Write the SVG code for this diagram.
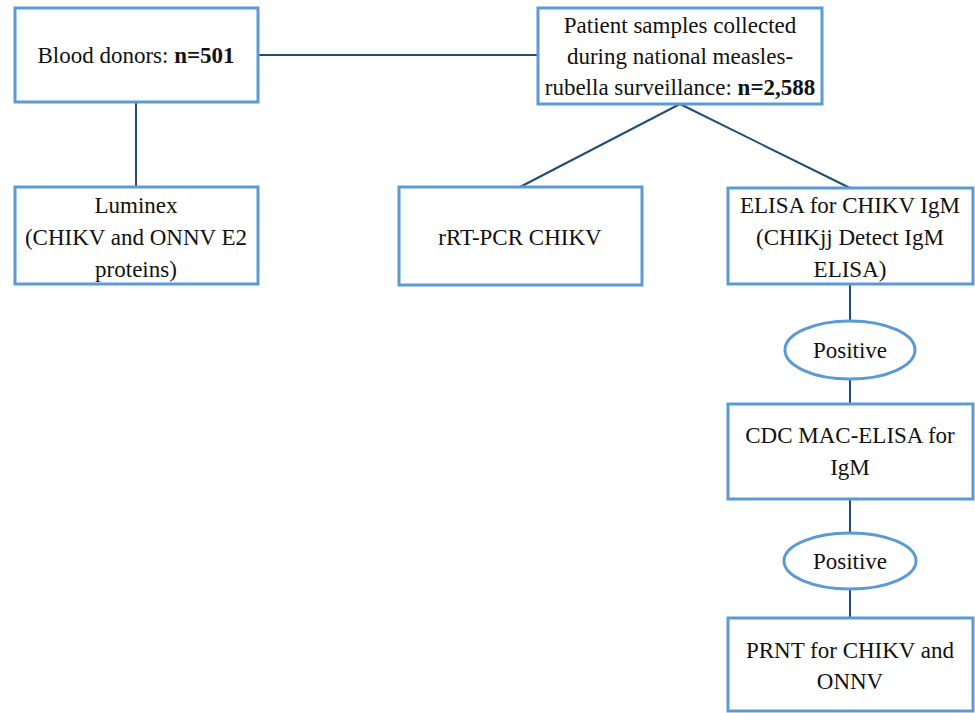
<svg xmlns="http://www.w3.org/2000/svg" width="975" height="713" viewBox="0 0 975 713" font-family="Liberation Serif, Tinos, DejaVu Serif, Noto Serif, serif">
<style>
.box{fill:#ffffff;stroke:#5b9bd5;stroke-width:3}
.ell{fill:#ffffff;stroke:#5b9bd5;stroke-width:3}
.con{stroke:#1f4e79;stroke-width:2;fill:none}
text{font-size:23px;fill:#111;text-anchor:middle}
.b{font-weight:bold}
</style>
<rect width="975" height="713" fill="#ffffff"/>
<g id="connectors">
<line class="con" x1="258" y1="55" x2="538" y2="55"/>
<line class="con" x1="136" y1="102" x2="136" y2="187"/>
<line class="con" x1="680" y1="104" x2="520" y2="187"/>
<line class="con" x1="680" y1="104" x2="850" y2="188"/>
<line class="con" x1="850" y1="284" x2="850" y2="321"/>
<line class="con" x1="850" y1="379" x2="850" y2="404"/>
<line class="con" x1="850" y1="499" x2="850" y2="533"/>
<line class="con" x1="850" y1="589" x2="850" y2="618"/>
</g>
<g id="blood-donors">
<rect class="box" x="15" y="8" width="243" height="94"/>
<text x="136" y="63">Blood donors: <tspan class="b">n=501</tspan></text>
</g>
<g id="patient-samples">
<rect class="box" x="538" y="8" width="284" height="96"/>
<text x="680" y="33">Patient samples collected</text>
<text x="680" y="64">during national measles-</text>
<text x="680" y="95">rubella surveillance: <tspan class="b">n=2,588</tspan></text>
</g>
<g id="luminex">
<rect class="box" x="15" y="187" width="243" height="97"/>
<text x="136" y="213">Luminex</text>
<text x="136" y="245">(CHIKV and ONNV E2</text>
<text x="136" y="277">proteins)</text>
</g>
<g id="rrt-pcr">
<rect class="box" x="399" y="187" width="243" height="98"/>
<text x="520" y="245">rRT-PCR CHIKV</text>
</g>
<g id="elisa">
<rect class="box" x="728" y="188" width="245" height="96"/>
<text x="850" y="213">ELISA for CHIKV IgM</text>
<text x="850" y="245">(CHIKjj Detect IgM</text>
<text x="850" y="277">ELISA)</text>
</g>
<g id="positive-1">
<ellipse class="ell" cx="850" cy="350" rx="65" ry="29"/>
<text x="850" y="358">Positive</text>
</g>
<g id="cdc-mac-elisa">
<rect class="box" x="728" y="404" width="245" height="95"/>
<text x="850" y="443">CDC MAC-ELISA for</text>
<text x="850" y="475">IgM</text>
</g>
<g id="positive-2">
<ellipse class="ell" cx="850" cy="561" rx="66" ry="28"/>
<text x="850" y="569">Positive</text>
</g>
<g id="prnt">
<rect class="box" x="728" y="618" width="245" height="93"/>
<text x="850" y="658">PRNT for CHIKV and</text>
<text x="850" y="689">ONNV</text>
</g>
</svg>
